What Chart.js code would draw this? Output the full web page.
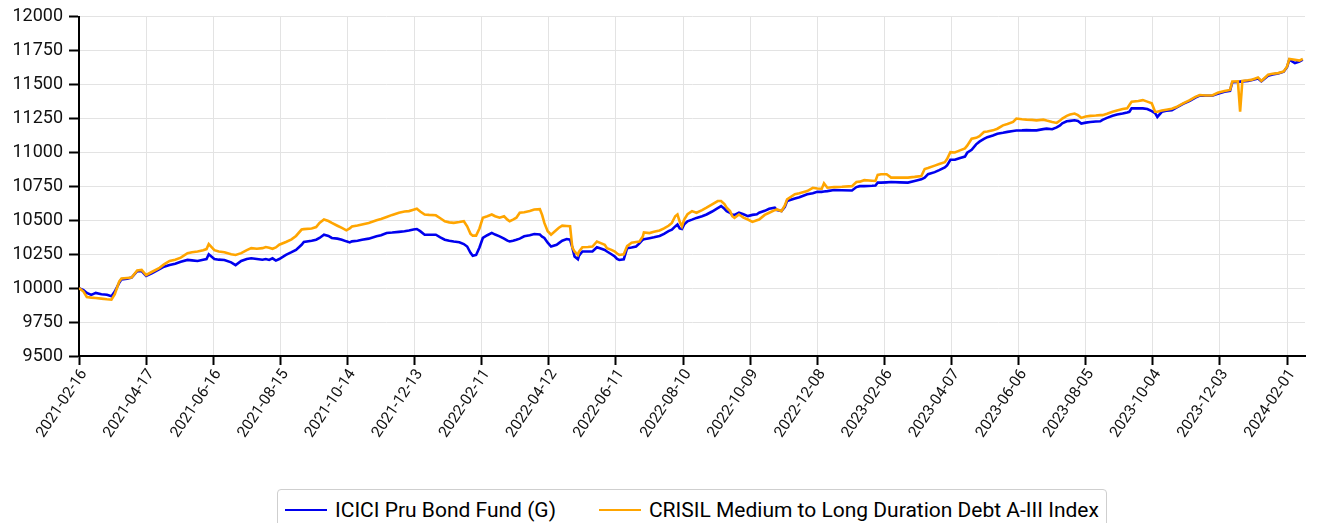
<!DOCTYPE html>
<html>
<head>
<meta charset="utf-8">
<script src="https://cdn.jsdelivr.net/npm/chart.js@4.4.1/dist/chart.umd.min.js"></script>
<style>
  html, body { margin: 0; padding: 0; background: #fff; overflow: hidden; width: 1322px; height: 523px; }
  #wrap { position: relative; width: 1322px; height: 523px; }
  #c { position: absolute; left: 0; top: 0; }
  #legend {
    position: absolute; left: 277px; top: 489px; width: 830px; height: 44px;
    border: 1.5px solid #cfcfcf; border-radius: 4px; box-sizing: border-box;
    font-family: Roboto, "Noto Sans", sans-serif; font-size: 21px; color: #000;
    display: flex; align-items: center; padding-left: 7px; padding-bottom: 2px; white-space: nowrap;
  }
  .item { display: flex; align-items: center; margin-right: 43px; }
  .swatch { width: 42px; height: 0; border-top: 2.5px solid; margin-right: 8px; }
</style>
</head>
<body>
<div id="wrap">
  <canvas id="c" width="1322" height="480"></canvas>
  <div id="legend"></div>
</div>
<script>
const startDate = '2021-02-16';
const seriesNames = ['ICICI Pru Bond Fund (G)', 'CRISIL Medium to Long Duration Debt A-III Index'];
const seriesColors = ['#0000ee', '#ffa500'];
const xTickLabels = ['2021-02-16','2021-04-17','2021-06-16','2021-08-15','2021-10-14','2021-12-13','2022-02-11','2022-04-12','2022-06-11','2022-08-10','2022-10-09','2022-12-08','2023-02-06','2023-04-07','2023-06-06','2023-08-05','2023-10-04','2023-12-03','2024-02-01'];
const yTicks = [9500, 9750, 10000, 10250, 10500, 10750, 11000, 11250, 11500, 11750, 12000];
const xEndDate = '2024-02-17';

const dates = [
'2021-02-16','2021-02-20','2021-02-23','2021-02-27','2021-03-03','2021-03-08','2021-03-13','2021-03-17','2021-03-20','2021-03-24',
'2021-03-26','2021-03-31','2021-04-04','2021-04-09','2021-04-13','2021-04-17','2021-04-22','2021-04-29','2021-05-03','2021-05-08',
'2021-05-13','2021-05-18','2021-05-24','2021-05-28','2021-06-02','2021-06-07','2021-06-10','2021-06-12','2021-06-17','2021-06-21',
'2021-06-26','2021-07-02','2021-07-06','2021-07-11','2021-07-16','2021-07-20','2021-07-25','2021-07-30','2021-08-02','2021-08-05',
'2021-08-08','2021-08-11','2021-08-14','2021-08-20','2021-08-25','2021-08-29','2021-09-03','2021-09-05','2021-09-12','2021-09-16',
'2021-09-19','2021-09-23','2021-09-27','2021-09-30','2021-10-05','2021-10-09','2021-10-13','2021-10-16','2021-10-18','2021-10-23',
'2021-10-27','2021-11-02','2021-11-09','2021-11-13','2021-11-18','2021-11-23','2021-11-29','2021-12-04','2021-12-08','2021-12-12',
'2021-12-15','2021-12-18','2021-12-22','2021-12-26','2022-01-01','2022-01-05','2022-01-09','2022-01-13','2022-01-17','2022-01-22',
'2022-01-26','2022-01-29','2022-02-01','2022-02-03','2022-02-06','2022-02-09','2022-02-12','2022-02-16','2022-02-20','2022-02-23',
'2022-02-27','2022-03-03','2022-03-06','2022-03-08','2022-03-11','2022-03-14','2022-03-17','2022-03-21','2022-03-26','2022-03-30',
'2022-04-04','2022-04-06','2022-04-08','2022-04-11','2022-04-14','2022-04-19','2022-04-21','2022-04-24','2022-04-28','2022-05-01',
'2022-05-03','2022-05-05','2022-05-08','2022-05-09','2022-05-12','2022-05-17','2022-05-21','2022-05-25','2022-05-29','2022-06-01',
'2022-06-03','2022-06-07','2022-06-10','2022-06-12','2022-06-14','2022-06-18','2022-06-21','2022-06-25','2022-06-29','2022-07-02',
'2022-07-05','2022-07-06','2022-07-11','2022-07-15','2022-07-20','2022-07-24','2022-07-28','2022-07-31','2022-08-03','2022-08-05',
'2022-08-07','2022-08-09','2022-08-11','2022-08-14','2022-08-18','2022-08-22','2022-08-27','2022-08-31','2022-09-05','2022-09-10',
'2022-09-13','2022-09-16','2022-09-18','2022-09-21','2022-09-23','2022-09-25','2022-09-29','2022-10-03','2022-10-07','2022-10-11',
'2022-10-15','2022-10-17','2022-10-22','2022-10-26','2022-10-31','2022-11-02','2022-11-06','2022-11-09','2022-11-11','2022-11-18',
'2022-11-22','2022-11-29','2022-12-04','2022-12-08','2022-12-12','2022-12-14','2022-12-17','2022-12-23','2022-12-30','2023-01-08',
'2023-01-12','2023-01-15','2023-01-19','2023-01-26','2023-01-29','2023-01-31','2023-02-03','2023-02-08','2023-02-12','2023-02-20',
'2023-02-27','2023-03-05','2023-03-11','2023-03-14','2023-03-17','2023-03-23','2023-03-27','2023-04-01','2023-04-03','2023-04-06',
'2023-04-10','2023-04-14','2023-04-19','2023-04-21','2023-04-25','2023-04-29','2023-05-02','2023-05-06','2023-05-09','2023-05-14',
'2023-05-18','2023-05-23','2023-05-27','2023-06-01','2023-06-04','2023-06-09','2023-06-13','2023-06-18','2023-06-22','2023-06-28',
'2023-07-01','2023-07-06','2023-07-10','2023-07-13','2023-07-15','2023-07-19','2023-07-22','2023-07-26','2023-07-29','2023-08-01',
'2023-08-05','2023-08-09','2023-08-14','2023-08-18','2023-08-20','2023-08-24','2023-08-29','2023-09-02','2023-09-07','2023-09-11',
'2023-09-13','2023-09-15','2023-09-21','2023-09-25','2023-09-29','2023-10-03','2023-10-06','2023-10-08','2023-10-12','2023-10-16',
'2023-10-21','2023-10-25','2023-10-31','2023-11-06','2023-11-11','2023-11-15','2023-11-20','2023-11-26','2023-12-01','2023-12-07',
'2023-12-12','2023-12-14','2023-12-19','2023-12-21','2023-12-23','2023-12-28','2023-12-31','2024-01-06','2024-01-09','2024-01-15',
'2024-01-19','2024-01-24','2024-01-29','2024-02-01','2024-02-03','2024-02-08','2024-02-12','2024-02-15'
];

const fundValues = [
10000,9985,9965,9950,9965,9955,9952,9940,9975,10040,
10065,10070,10078,10125,10125,10090,10110,10140,10158,10170,
10180,10195,10208,10205,10200,10210,10215,10250,10215,10210,
10208,10190,10170,10200,10215,10220,10215,10210,10215,10208,
10220,10203,10215,10245,10265,10282,10320,10340,10350,10357,
10370,10394,10385,10370,10365,10357,10345,10337,10345,10350,
10357,10365,10382,10390,10407,10410,10415,10419,10425,10433,
10436,10420,10394,10394,10394,10375,10357,10350,10344,10338,
10325,10307,10260,10238,10245,10300,10370,10390,10407,10395,
10382,10365,10350,10344,10350,10357,10365,10382,10390,10399,
10395,10380,10370,10335,10307,10320,10332,10350,10362,10357,
10300,10233,10213,10240,10270,10270,10270,10301,10290,10282,
10270,10250,10233,10215,10208,10213,10295,10300,10307,10330,
10357,10360,10368,10375,10385,10400,10420,10431,10455,10469,
10440,10436,10470,10493,10505,10518,10530,10543,10565,10590,
10605,10585,10568,10555,10540,10540,10556,10545,10531,10540,
10545,10556,10570,10585,10593,10575,10568,10600,10643,10660,
10670,10692,10700,10710,10710,10712,10715,10723,10722,10720,
10745,10752,10752,10755,10757,10778,10778,10780,10782,10780,
10778,10790,10802,10815,10840,10855,10870,10890,10905,10946,
10946,10958,10970,10998,11020,11060,11080,11100,11113,11125,
11138,11145,11152,11158,11162,11163,11165,11163,11163,11172,
11176,11171,11185,11200,11215,11230,11233,11237,11232,11213,
11220,11225,11228,11230,11240,11255,11270,11280,11287,11295,
11300,11325,11325,11325,11320,11305,11290,11262,11300,11308,
11312,11330,11358,11380,11405,11420,11418,11418,11432,11448,
11455,11518,11520,11522,11524,11528,11532,11545,11525,11565,
11575,11583,11595,11630,11684,11659,11670,11684
];

const indexValues = [
10000,9975,9935,9930,9928,9923,9918,9915,9955,10050,
10072,10075,10078,10130,10134,10097,10119,10150,10175,10201,
10210,10225,10258,10265,10270,10280,10288,10325,10280,10270,
10265,10250,10245,10258,10280,10295,10290,10295,10303,10298,
10290,10300,10320,10340,10360,10385,10432,10435,10440,10450,
10481,10506,10495,10481,10460,10444,10426,10440,10455,10462,
10470,10481,10500,10510,10525,10540,10556,10565,10568,10578,
10586,10565,10543,10540,10537,10515,10493,10485,10481,10487,
10493,10456,10400,10387,10387,10440,10519,10530,10543,10530,
10519,10530,10505,10493,10505,10519,10556,10560,10568,10580,
10582,10540,10481,10420,10394,10431,10445,10461,10458,10456,
10300,10270,10245,10270,10301,10303,10307,10344,10330,10319,
10295,10282,10270,10255,10245,10250,10310,10335,10340,10344,
10380,10411,10406,10415,10425,10440,10460,10481,10530,10543,
10490,10456,10506,10545,10568,10556,10575,10593,10618,10642,
10642,10620,10593,10568,10530,10518,10543,10520,10506,10488,
10500,10506,10540,10556,10575,10580,10568,10610,10655,10692,
10700,10716,10740,10735,10733,10773,10740,10745,10747,10752,
10782,10785,10796,10792,10790,10835,10840,10840,10815,10815,
10815,10820,10827,10878,10885,10903,10915,10928,10952,11002,
11000,11014,11030,11050,11101,11108,11120,11151,11155,11163,
11175,11200,11210,11225,11250,11245,11242,11240,11237,11242,
11235,11225,11218,11235,11250,11270,11280,11287,11275,11255,
11265,11270,11272,11275,11275,11285,11300,11310,11320,11325,
11350,11374,11380,11386,11375,11362,11300,11300,11310,11315,
11322,11335,11362,11386,11410,11424,11420,11420,11440,11453,
11461,11523,11525,11300,11528,11532,11535,11553,11528,11573,
11580,11585,11597,11634,11689,11684,11677,11690
];

const DAY = 86400000;
const t0 = Date.parse(startDate + 'T00:00:00Z');
const dayOffset = (s) => Math.round((Date.parse(s + 'T00:00:00Z') - t0) / DAY);
const offsetToLabel = new Map(xTickLabels.map(l => [dayOffset(l), l]));

const makePoints = (vals) => dates.map((d, i) => ({ x: dayOffset(d), y: vals[i] }));

const yFont = { family: 'Roboto, "Noto Sans", sans-serif', size: 18 };
const xFont = { family: 'Roboto, "Noto Sans", sans-serif', size: 15.5 };

const chart = new Chart(document.getElementById('c'), {
  type: 'line',
  data: {
    datasets: [
      { label: seriesNames[0], data: makePoints(fundValues), borderColor: seriesColors[0], borderWidth: 2.6, pointRadius: 0, tension: 0, order: 1 },
      { label: seriesNames[1], data: makePoints(indexValues), borderColor: seriesColors[1], borderWidth: 2.6, pointRadius: 0, tension: 0, order: 0 }
    ]
  },
  options: {
    responsive: false,
    devicePixelRatio: 1,
    animation: false,
    layout: { padding: { top: 15, right: 17, left: 0, bottom: 0 } },
    plugins: { legend: { display: false }, tooltip: { enabled: false } },
    scales: {
      x: {
        type: 'linear',
        min: 0,
        max: dayOffset(xEndDate),
        afterBuildTicks: (scale) => { scale.ticks = xTickLabels.map(l => ({ value: dayOffset(l) })); },
        afterFit: (scale) => { scale.height = 124; },
        ticks: {
          autoSkip: false, includeBounds: false,
          minRotation: 56, maxRotation: 56,
          color: '#111', font: xFont, padding: 1, labelOffset: 5,
          callback: (v) => offsetToLabel.get(v) || ''
        },
        grid: { color: '#e3e3e3', lineWidth: 1, tickColor: '#000', tickLength: 9, tickWidth: 2 },
        border: { color: '#000', width: 2 }
      },
      y: {
        min: yTicks[0],
        max: yTicks[yTicks.length - 1],
        afterBuildTicks: (scale) => { scale.ticks = yTicks.map(v => ({ value: v })); },
        afterFit: (scale) => { scale.width = 79; },
        ticks: { color: '#111', font: yFont, padding: 6, callback: (v) => String(v) },
        grid: { color: '#e3e3e3', lineWidth: 1, tickColor: '#000', tickLength: 10, tickWidth: 2 },
        border: { color: '#000', width: 2 }
      }
    }
  }
});

const legend = document.getElementById('legend');
seriesNames.forEach((name, i) => {
  const item = document.createElement('div');
  item.className = 'item';
  const sw = document.createElement('span');
  sw.className = 'swatch';
  sw.style.borderTopColor = seriesColors[i];
  const tx = document.createElement('span');
  tx.textContent = name;
  item.appendChild(sw);
  item.appendChild(tx);
  legend.appendChild(item);
});
</script>
</body>
</html>
